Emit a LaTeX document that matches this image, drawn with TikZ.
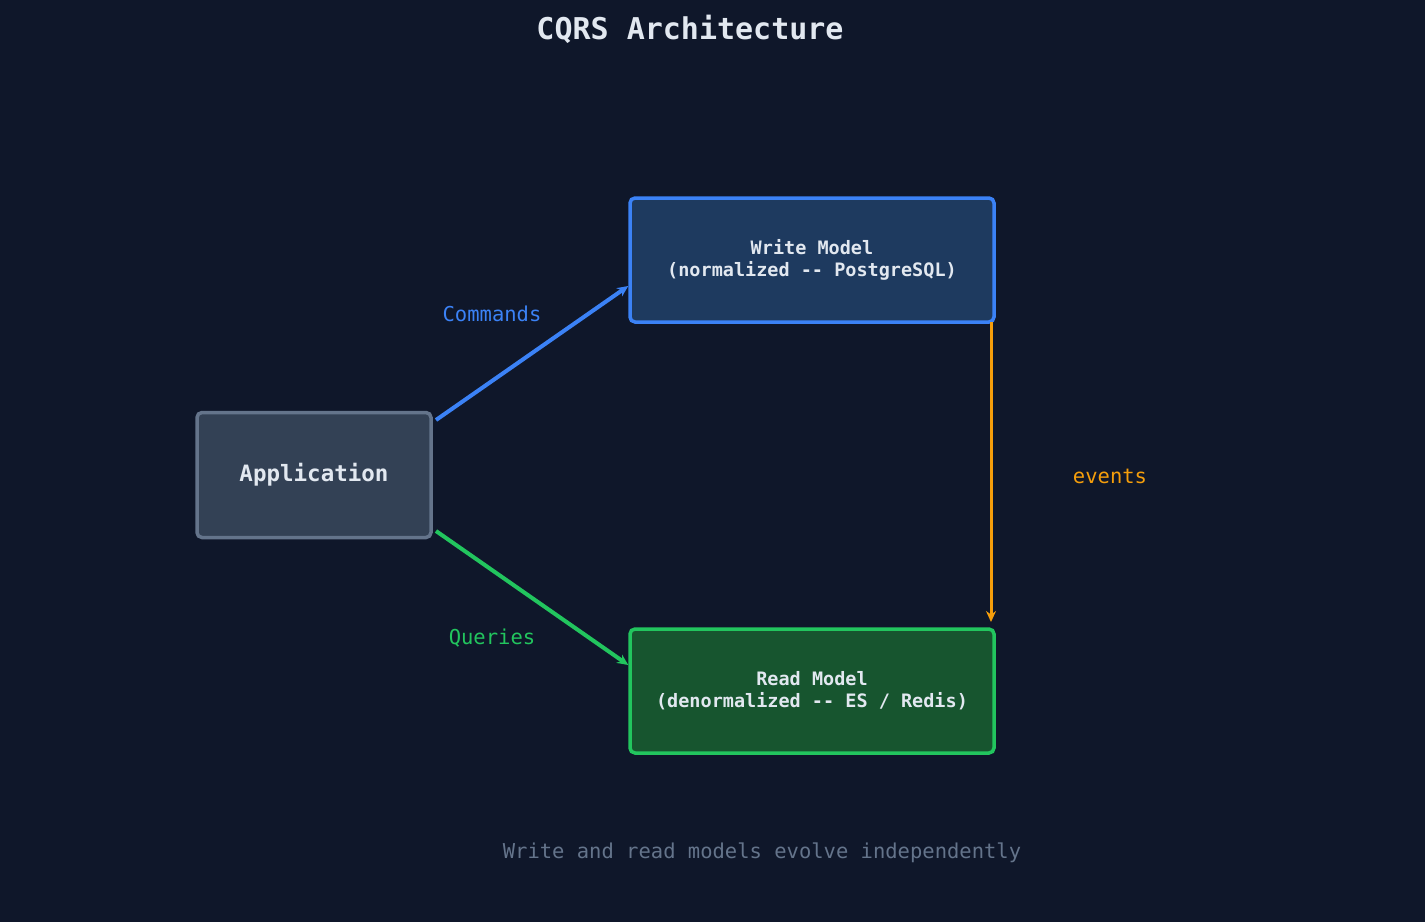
\documentclass[tikz,border=0pt]{standalone}
\usepackage{fontspec}
\setmonofont{DejaVu Sans Mono}
\usetikzlibrary{arrows.meta}
\definecolor{bgc}{HTML}{0F172A}
\definecolor{txt}{HTML}{E2E8F0}
\definecolor{appfill}{HTML}{334155}
\definecolor{appline}{HTML}{64748B}
\definecolor{wfill}{HTML}{1E3A5F}
\definecolor{wline}{HTML}{3B82F6}
\definecolor{rfill}{HTML}{17552F}
\definecolor{rline}{HTML}{22C55E}
\definecolor{evline}{HTML}{F59E0B}
\tikzset{
  model/.style={rectangle, rounded corners=5pt, line width=3.5pt, text=txt, align=center, font=\ttfamily\bfseries\fontsize{18.5}{22}\selectfont},
  flow/.style={line width=4pt, -{Stealth[length=11pt,width=10pt]}},
  lbl/.style={font=\ttfamily\fontsize{20.5}{24}\selectfont},
}
\begin{document}
\begin{tikzpicture}[x=1pt, y=-1pt]
\fill[bgc] (0,0) rectangle (1425,922);
\useasboundingbox (0,0) rectangle (1425,922);
\node[font=\ttfamily\bfseries\fontsize{30}{34}\selectfont, text=txt] (title) at (690,29) {CQRS Architecture};
\node[model, fill=appfill, draw=appline, minimum width=234pt, minimum height=125pt, font=\ttfamily\bfseries\fontsize{22.5}{26}\selectfont] (app) at (314,475) {Application};
\node[model, fill=wfill, draw=wline, minimum width=364pt, minimum height=124pt] (write) at (812,260) {Write Model\\(normalized -- PostgreSQL)};
\node[model, fill=rfill, draw=rline, minimum width=364pt, minimum height=124pt] (read) at (812,691) {Read Model\\(denormalized -- ES / Redis)};
\coordinate (cs) at (436,420);
\coordinate (qs) at (436,531);
\coordinate (es) at (991,322);
\coordinate (ee) at (991,622);
\draw[flow, wline] (cs) -- (write.west |- 0,286);
\draw[flow, rline] (qs) -- (read.west |- 0,665);
\draw[flow, evline, line width=3pt] (es) -- (ee);
\node[lbl, text=wline] (cmd) at (492,314) {Commands};
\node[lbl, text=rline] (qry) at (492,638) {Queries};
\node[lbl, text=evline] (ev) at (1110,476) {events};
\node[lbl, text=appline] (foot) at (762,853) {Write and read models evolve independently};
\end{tikzpicture}
\end{document}
